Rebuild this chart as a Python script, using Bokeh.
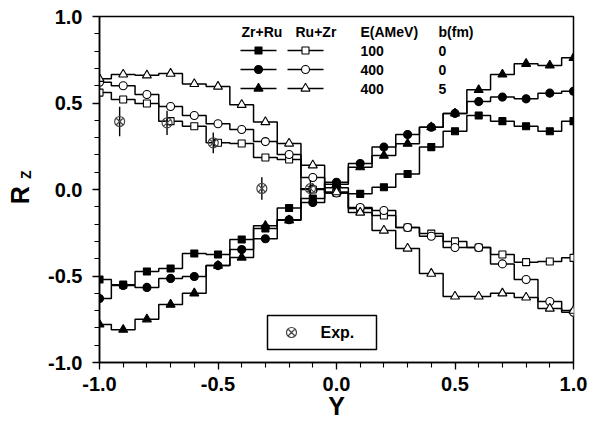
import numpy as np
from bokeh.plotting import figure
from bokeh.layouts import row
from bokeh.models import Label, SingleIntervalTicker, NumeralTickFormatter
from bokeh.embed import file_html
from bokeh.resources import INLINE
from bokeh.core.properties import value

# ---------------- data ----------------
rapidity = [-1.0, -0.9, -0.8, -0.7, -0.6, -0.5, -0.4, -0.3, -0.2, -0.1, 0.0,
            0.1, 0.2, 0.3, 0.4, 0.5, 0.6, 0.7, 0.8, 0.9, 1.0]

# Zr+Ru (filled symbols)
zrru_e100_b0 = [-0.52, -0.55, -0.474, -0.457, -0.37, -0.376, -0.289, -0.225, -0.107, -0.052, 0.01,
                -0.025, 0.013, 0.09, 0.245, 0.337, 0.428, 0.395, 0.366, 0.337, 0.395]
zrru_e400_b0 = [-0.63, -0.555, -0.566, -0.514, -0.503, -0.44, -0.347, -0.285, -0.175, -0.075, 0.042,
                0.15, 0.245, 0.318, 0.36, 0.44, 0.508, 0.534, 0.524, 0.557, 0.568]
zrru_e400_b5 = [-0.78, -0.81, -0.75, -0.665, -0.60, -0.44, -0.393, -0.21, -0.178, 0.005, 0.03,
                0.129, 0.196, 0.265, 0.36, 0.44, 0.576, 0.665, 0.727, 0.717, 0.761]

# Ru+Zr (open symbols)
ruzr_e100_b0 = [0.56, 0.52, 0.497, 0.395, 0.366, 0.27, 0.266, 0.185, 0.173, 0.0, -0.02,
                -0.11, -0.15, -0.22, -0.255, -0.30, -0.335, -0.376, -0.42, -0.416, -0.395]
ruzr_e400_b0 = [0.62, 0.60, 0.549, 0.48, 0.428, 0.38, 0.347, 0.277, 0.202, 0.069, -0.02,
                -0.104, -0.121, -0.22, -0.27, -0.335, -0.335, -0.43, -0.52, -0.647, -0.71]
ruzr_e400_b5 = [0.64, 0.665, 0.66, 0.67, 0.61, 0.595, 0.49, 0.39, 0.266, 0.14, -0.015,
                -0.133, -0.237, -0.341, -0.486, -0.618, -0.618, -0.60, -0.624, -0.688, -0.70]

# experiment
exp_y = [-0.915, -0.715, -0.52, -0.315, -0.11]
exp_r = [0.393, 0.385, 0.27, 0.006, 0.005]
exp_err = [0.085, 0.07, 0.06, 0.065, 0.05]

legend_energy = ["100", "400", "400"]
legend_b = ["0", "0", "5"]
legend_markers = ["square", "circle", "triangle"]
header_labels = ["Zr+Ru", "Ru+Zr", "E(AMeV)", "b(fm)"]
y_title_main, y_title_sub = "R", "Z"
x_title = "Y"

tick_interval = 0.5

# ---------------- layout ----------------
W, H = 589, 424
SIDE = 40                      # narrow strip holding the rotated y title
BL, BR, BT, BB = 99, 16, 16, 62
FW, FH = W - BL - BR, H - BT - BB
FONT = "Liberation Sans"


def px_x(px):
    return -1 + 2.0 * (px - BL) / FW


def px_y(py):
    return 1 - 2.0 * (py - BT) / FH


# side strip for the y title (pixel coordinates)
side = figure(width=SIDE, height=H, x_range=(0, SIDE), y_range=(0, H),
              output_backend="svg", toolbar_location=None, title=None,
              x_axis_location=None, y_axis_location=None,
              min_border=0, min_border_left=0, min_border_right=0, min_border_top=0, min_border_bottom=0)
side.outline_line_color = None
side.xgrid.visible = False
side.ygrid.visible = False
side.background_fill_color = "white"
side.border_fill_color = "white"
side.text(x=[19], y=[H - 219], text=[y_title_main], angle=np.pi / 2, text_align="center",
          text_baseline="middle", text_font=value(FONT), text_font_style="bold",
          text_font_size="25px", text_color="black")
side.text(x=[25], y=[H - 194], text=[y_title_sub], angle=np.pi / 2, text_align="center",
          text_baseline="middle", text_font=value(FONT), text_font_style="bold",
          text_font_size="14px", text_color="black")

p = figure(width=W - SIDE, height=H, x_range=(-1, 1), y_range=(-1, 1),
           output_backend="svg", toolbar_location=None, title=None,
           min_border_left=BL - SIDE, min_border_right=BR, min_border_top=BT, min_border_bottom=BB)
p.xgrid.visible = False
p.ygrid.visible = False
p.outline_line_color = "black"
p.outline_line_width = 1.5
p.background_fill_color = "white"
p.border_fill_color = "white"

for ax in (p.xaxis[0], p.yaxis[0]):
    ax.ticker = SingleIntervalTicker(interval=tick_interval, num_minor_ticks=5)
    ax.formatter = NumeralTickFormatter(format="0.0")
    ax.major_label_text_font = FONT
    ax.major_label_text_font_style = "bold"
    ax.major_label_text_font_size = "20px"
    ax.major_label_text_color = "black"
    ax.major_tick_in = 0
    ax.major_tick_out = 7
    ax.minor_tick_in = 0
    ax.minor_tick_out = 5
    ax.axis_line_width = 1.5
    ax.axis_line_color = "black"
    ax.major_tick_line_width = 1.3
    ax.minor_tick_line_width = 1.1
    ax.major_tick_line_color = "black"
    ax.minor_tick_line_color = "black"
p.xaxis[0].major_label_standoff = 7
p.yaxis[0].major_label_standoff = 10

p.xaxis[0].axis_label = x_title
p.xaxis[0].axis_label_text_font = FONT
p.xaxis[0].axis_label_text_font_style = "bold"
p.xaxis[0].axis_label_text_font_size = "25px"
p.xaxis[0].axis_label_text_color = "black"
p.xaxis[0].axis_label_standoff = -2

# ---------------- series ----------------
series = [
    (zrru_e100_b0, "square", 7, "black"),
    (zrru_e400_b0, "circle", 8, "black"),
    (zrru_e400_b5, "triangle", 9, "black"),
    (ruzr_e100_b0, "square", 7, "white"),
    (ruzr_e400_b0, "circle", 8, "white"),
    (ruzr_e400_b5, "triangle", 9, "white"),
]
for ys, mk, sz, fc in series:
    p.step(rapidity, ys, mode="center", line_color="black", line_width=1.5)
for ys, mk, sz, fc in series:
    p.scatter(rapidity, ys, marker=mk, size=sz, fill_color=fc, line_color="black", line_width=1.1)

# experiment with error bars
lo = [r - e for r, e in zip(exp_r, exp_err)]
hi = [r + e for r, e in zip(exp_r, exp_err)]
p.segment(x0=exp_y, y0=lo, x1=exp_y, y1=hi, line_color="black", line_width=1.4)
p.scatter(exp_y, exp_r, marker="circle_x", size=10, fill_alpha=0, line_color="#444444", line_width=1.2)

# ---------------- legend (table style) ----------------
head_py = 31
row_py = [50, 69, 88]
head_px = [241, 295, 360, 438]
for txt, hx in zip(header_labels, head_px):
    p.add_layout(Label(x=px_x(hx), y=px_y(head_py), text=txt, text_align="left", text_baseline="middle",
                       text_font=FONT, text_font_style="bold", text_font_size="14px", text_color="black"))
fill_seg = (240, 276, 258)
open_seg = (287, 323, 305)
msize = {"square": 7, "circle": 8, "triangle": 9}
for ry, mk, en, bb in zip(row_py, legend_markers, legend_energy, legend_b):
    yy = px_y(ry)
    for (a, b, c), fc in ((fill_seg, "black"), (open_seg, "white")):
        p.segment(x0=[px_x(a)], y0=[yy], x1=[px_x(b)], y1=[yy], line_color="black", line_width=1.4)
        p.scatter([px_x(c)], [yy], marker=mk, size=msize[mk], fill_color=fc, line_color="black", line_width=1.1)
    p.add_layout(Label(x=px_x(360), y=yy, text=en, text_align="left", text_baseline="middle",
                       text_font=FONT, text_font_style="bold", text_font_size="14px", text_color="black"))
    p.add_layout(Label(x=px_x(438), y=yy, text=bb, text_align="left", text_baseline="middle",
                       text_font=FONT, text_font_style="bold", text_font_size="14px", text_color="black"))

# Exp. box
p.quad(left=[px_x(267)], right=[px_x(376)], bottom=[px_y(349)], top=[px_y(315)],
       fill_color="white", line_color="black", line_width=1.5)
p.scatter([px_x(291)], [px_y(332)], marker="circle_x", size=10, fill_alpha=0, line_color="#444444", line_width=1.2)
p.add_layout(Label(x=px_x(320), y=px_y(332), text="Exp.", text_align="left", text_baseline="middle",
                   text_font=FONT, text_font_style="bold", text_font_size="16px", text_color="black"))

layout = row(side, p, spacing=0)
open("out.html", "w").write(file_html(layout, INLINE))
